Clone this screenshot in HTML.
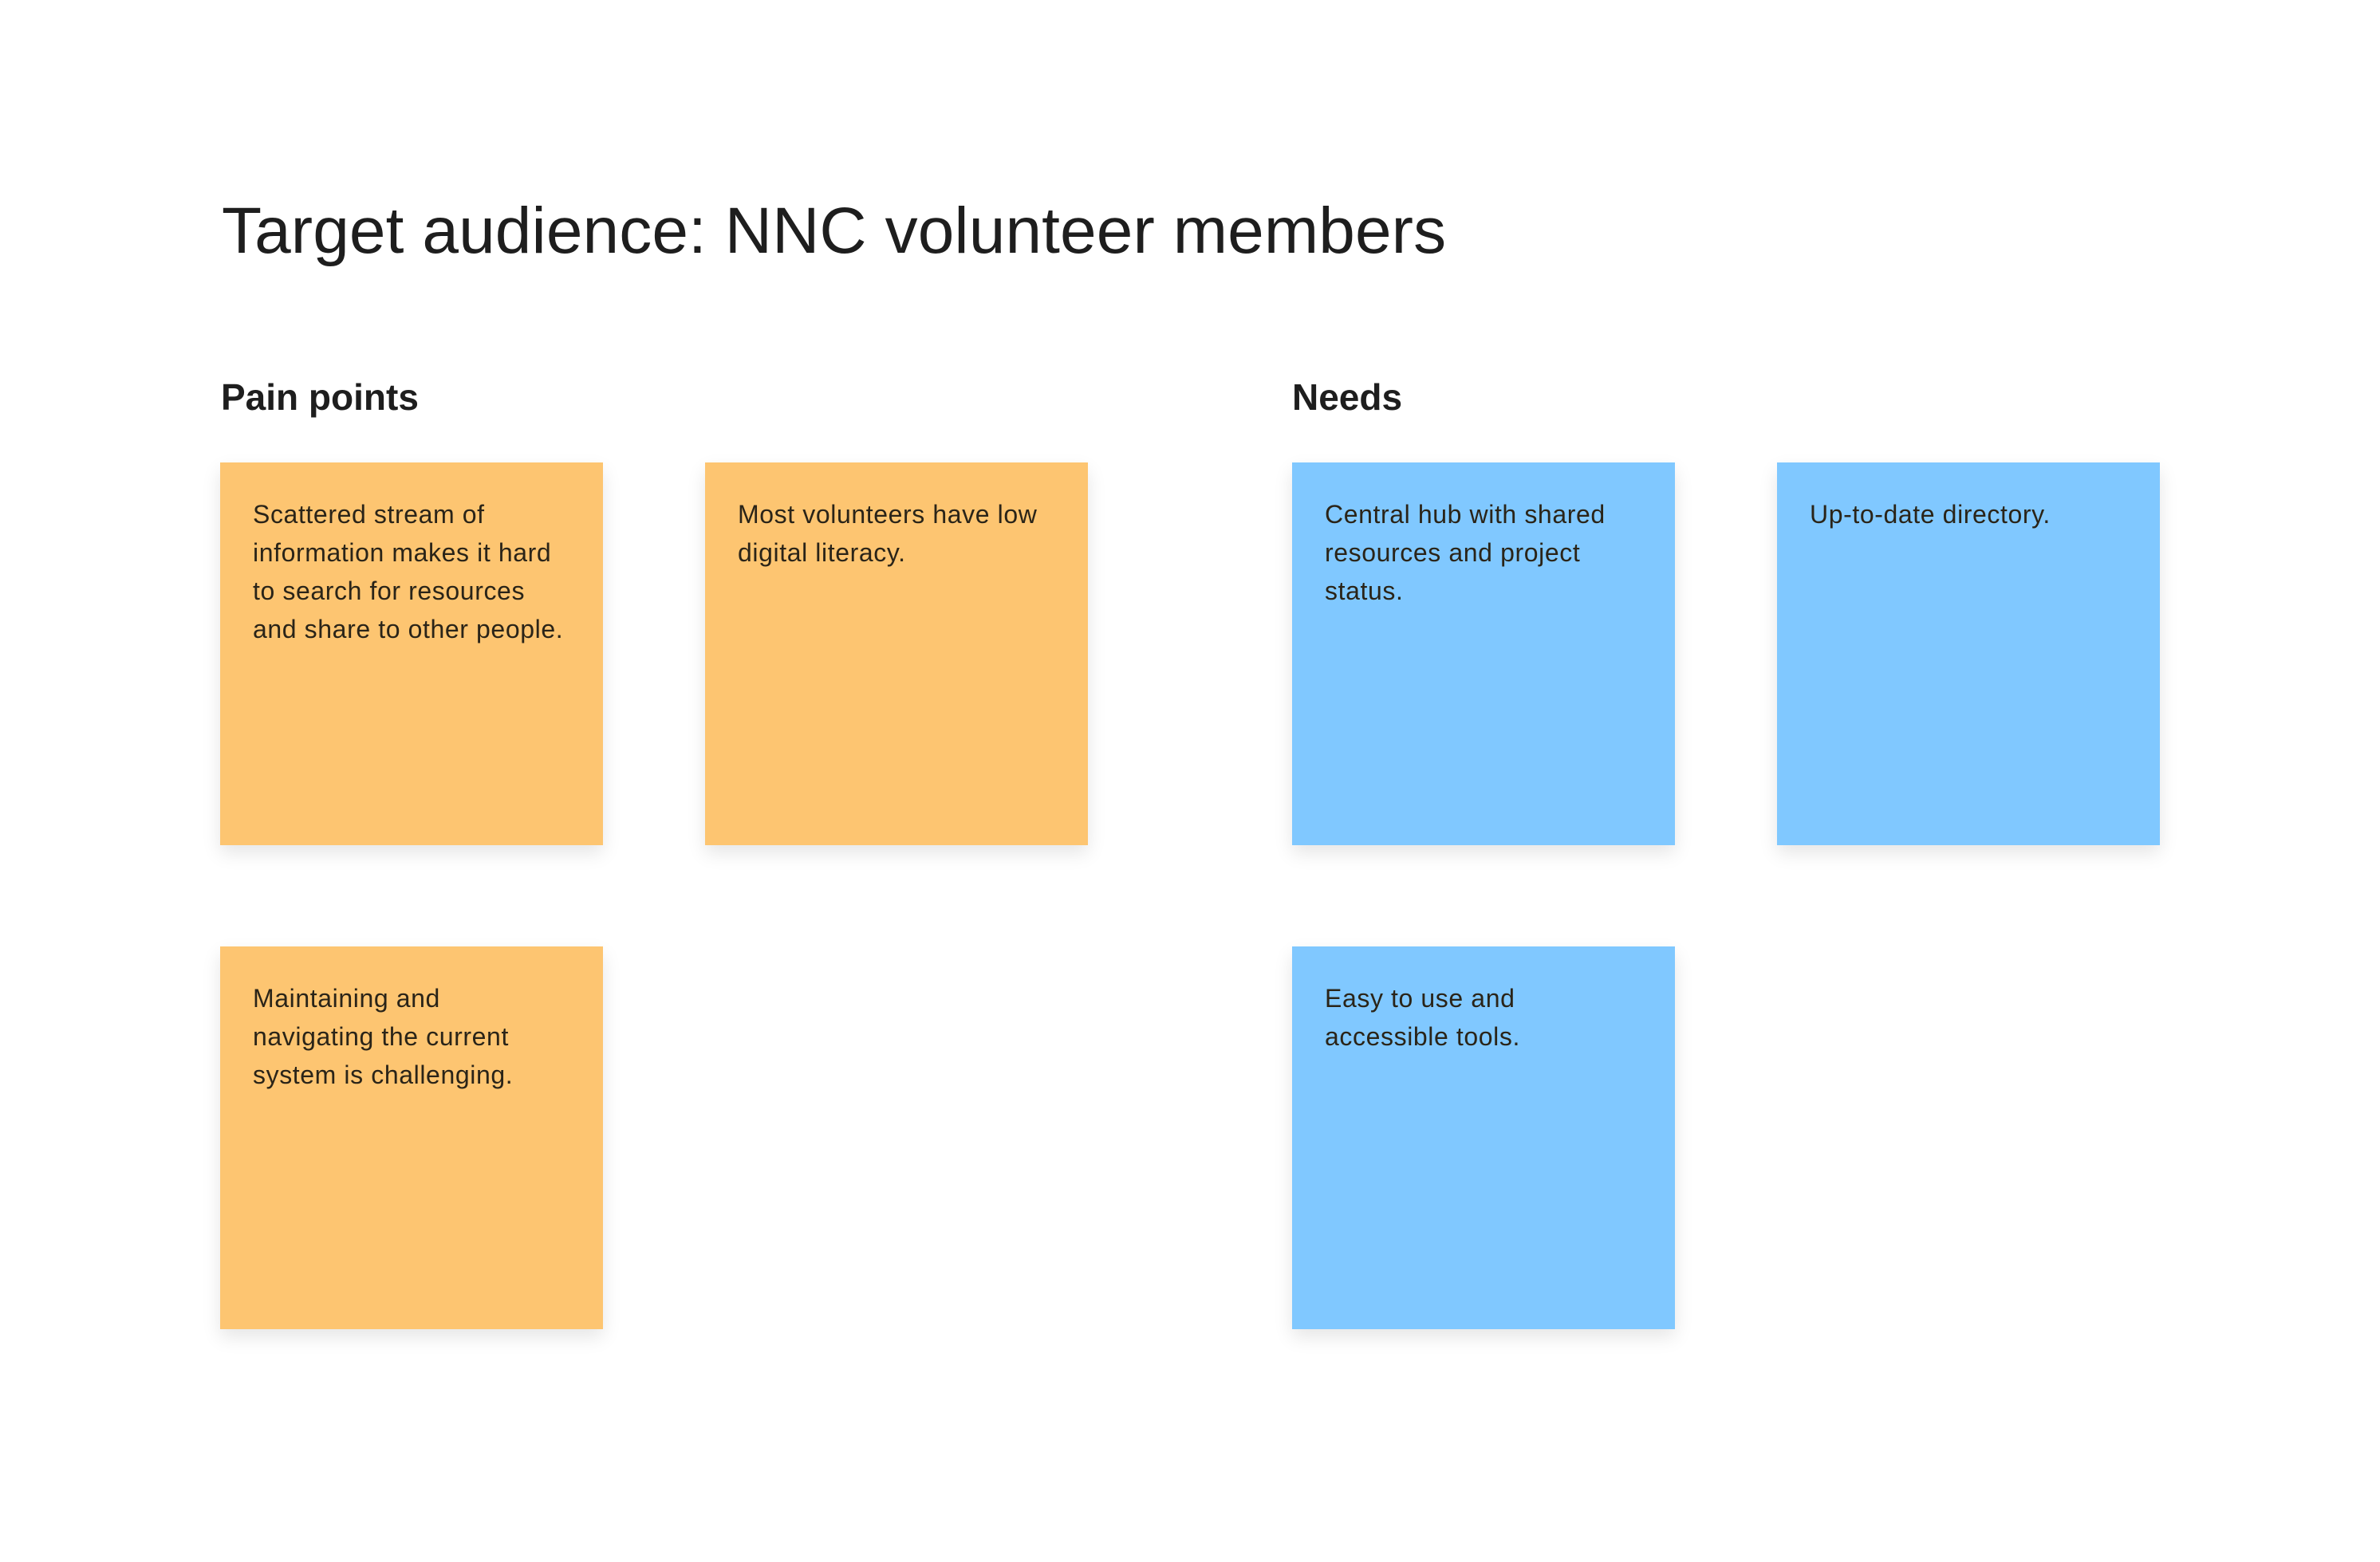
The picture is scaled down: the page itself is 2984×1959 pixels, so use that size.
<!DOCTYPE html>
<html><head><meta charset="utf-8"><style>
html,body{margin:0;padding:0;background:#fff;}
body{width:2984px;height:1959px;position:relative;overflow:hidden;font-family:"Liberation Sans",sans-serif;color:#1e1e1e;}
.t{position:absolute;white-space:nowrap;}
#title{left:278px;top:240px;font-size:82px;line-height:100px;letter-spacing:0.1px;}
.h{font-size:46px;font-weight:bold;line-height:60px;top:468px;}
.note{position:absolute;width:480px;height:480px;box-sizing:border-box;padding:41px 20px 0 41px;font-size:32px;line-height:48px;letter-spacing:0.6px;color:#2a2418;box-shadow:0 10px 22px rgba(0,0,0,0.10);white-space:nowrap;}
.o{background:#fdc571;}
.b{background:#80c8ff;}
</style></head><body>
<div id="title" class="t">Target audience: NNC volunteer members</div>
<div class="t h" style="left:277px">Pain points</div>
<div class="t h" style="left:1620px">Needs</div>
<div class="note o" style="left:276px;top:580px">Scattered stream of<br>information makes it hard<br>to search for resources<br>and share to other people.</div>
<div class="note o" style="left:884px;top:580px">Most volunteers have low<br>digital literacy.</div>
<div class="note o" style="left:276px;top:1187px">Maintaining and<br>navigating the current<br>system is challenging.</div>
<div class="note b" style="left:1620px;top:580px">Central hub with shared<br>resources and project<br>status.</div>
<div class="note b" style="left:2228px;top:580px">Up-to-date directory.</div>
<div class="note b" style="left:1620px;top:1187px">Easy to use and<br>accessible tools.</div>
</body></html>
